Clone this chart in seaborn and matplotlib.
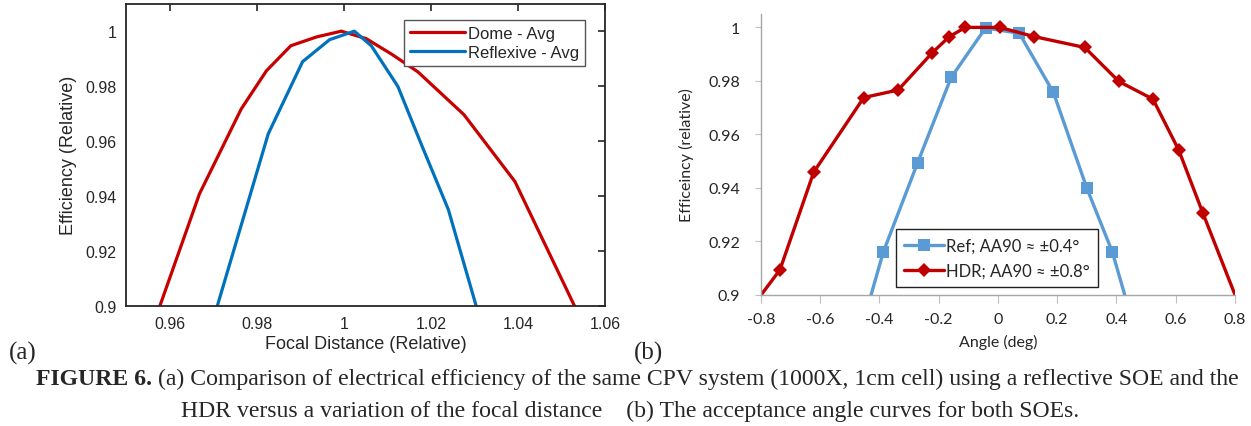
import seaborn as sns
import matplotlib.pyplot as plt

# data -- panel (a): efficiency vs focal distance
dome_x = [0.9577, 0.9668, 0.9764, 0.9822, 0.9878, 0.9937, 0.9994, 1.0051,
          1.0110, 1.0170, 1.0276, 1.0393, 1.0530]
dome_y = [0.900, 0.9408, 0.9717, 0.9856, 0.9947, 0.9979, 1.000, 0.9973,
          0.9916, 0.9852, 0.9696, 0.9453, 0.900]
refl_x = [0.9709, 0.9826, 0.9905, 0.9967, 1.0024, 1.0063, 1.0124, 1.0179,
          1.0240, 1.0304]
refl_y = [0.900, 0.9626, 0.9889, 0.9969, 1.000, 0.9947, 0.9799, 0.9584,
          0.9351, 0.900]

# data -- panel (b): acceptance angle curves
ref_angle = [-0.48, -0.387, -0.271, -0.158, -0.042, 0.072, 0.187, 0.300, 0.386, 0.48]
ref_eff = [0.880, 0.9161, 0.9495, 0.9813, 0.9998, 0.9978, 0.9757, 0.9399, 0.9161, 0.880]
hdr_angle = [-0.85, -0.736, -0.622, -0.453, -0.337, -0.223, -0.165, -0.110,
             0.006, 0.121, 0.293, 0.408, 0.523, 0.610, 0.692, 0.85]
hdr_eff = [0.8926, 0.9094, 0.9459, 0.9738, 0.9766, 0.9904, 0.9965, 1.000,
           1.000, 0.9966, 0.9925, 0.9798, 0.9732, 0.9542, 0.9305, 0.886]

sns.set_style("white")
plt.rcParams["font.family"] = ["Liberation Sans", "DejaVu Sans"]
fig = plt.figure(figsize=(12.51, 4.27), dpi=100)
grey = "#262626"

# ---- (a) ----
ax1 = fig.add_axes([0.101, 0.281, 0.3826, 0.708])
sns.lineplot(x=dome_x, y=dome_y, ax=ax1, color="#C80000", lw=2.3,
             label="Dome - Avg", sort=False)
sns.lineplot(x=refl_x, y=refl_y, ax=ax1, color="#0072BD", lw=2.3,
             label="Reflexive - Avg", sort=False)
ax1.set_xlim(0.95, 1.06)
ax1.set_ylim(0.9, 1.01)
ax1.set_xticks([0.96, 0.98, 1.0, 1.02, 1.04, 1.06])
ax1.set_xticklabels(["0.96", "0.98", "1", "1.02", "1.04", "1.06"])
ax1.set_yticks([0.9, 0.92, 0.94, 0.96, 0.98, 1.0])
ax1.set_yticklabels(["0.9", "0.92", "0.94", "0.96", "0.98", "1"])
ax1.tick_params(direction="in", top=True, right=True, length=5, width=1.2,
                labelsize=11.5, labelcolor=grey, color=grey, pad=7)
for s in ax1.spines.values():
    s.set_color(grey)
    s.set_linewidth(1.3)
ax1.set_xlabel("Focal Distance (Relative)", fontsize=13, color=grey, labelpad=3)
ax1.set_ylabel("Efficiency (Relative)", fontsize=13, color=grey, labelpad=6)
leg1 = ax1.legend(loc="upper right", bbox_to_anchor=(0.958, 0.946), borderaxespad=0,
                  fontsize=12, fancybox=False, edgecolor="#555555", framealpha=1,
                  handlelength=3.3, handletextpad=0.2, borderpad=0.35, labelspacing=0.25)
leg1.get_frame().set_linewidth(1.0)
for t in leg1.get_texts():
    t.set_color(grey)

# ---- (b) ----
ax2 = fig.add_axes([0.6083, 0.3068, 0.3789, 0.658])
sns.lineplot(x=ref_angle, y=ref_eff, ax=ax2, color="#5B9BD5", lw=2.4,
             marker="s", markersize=8, markeredgewidth=0,
             label="Ref; AA90 \u2248 \u00b10.4\u00b0", sort=False)
sns.lineplot(x=hdr_angle, y=hdr_eff, ax=ax2, color="#C00000", lw=2.4,
             marker="D", markersize=7.5, markeredgewidth=0,
             label="HDR; AA90 \u2248 \u00b10.8\u00b0", sort=False)
ax2.set_xlim(-0.8, 0.8)
ax2.set_ylim(0.9, 1.005)
ax2.set_xticks([-0.8, -0.6, -0.4, -0.2, 0, 0.2, 0.4, 0.6, 0.8])
ax2.set_xticklabels(["-0.8", "-0.6", "-0.4", "-0.2", "0", "0.2", "0.4", "0.6", "0.8"])
ax2.set_yticks([0.9, 0.92, 0.94, 0.96, 0.98, 1.0])
ax2.set_yticklabels(["0.9", "0.92", "0.94", "0.96", "0.98", "1"])
ax2.tick_params(axis="x", direction="out", length=6, color="#BFBFBF", bottom=True,
                labelsize=11.5, pad=6)
ax2.tick_params(axis="y", direction="out", length=4, color="#BFBFBF", left=True,
                labelsize=11.5, pad=11)
for lab in ax2.get_xticklabels() + ax2.get_yticklabels():
    lab.set_fontfamily("Lato")
for side in ["top", "right"]:
    ax2.spines[side].set_visible(False)
for side in ["left", "bottom"]:
    ax2.spines[side].set_color("#A6A6A6")
    ax2.spines[side].set_linewidth(1.0)
ax2.set_xlabel("Angle (deg)", fontsize=11.5, family="Lato", labelpad=6)
ax2.set_ylabel("Efficeincy (relative)", fontsize=11.5, family="Lato", labelpad=10)
leg2 = ax2.legend(loc="lower left", bbox_to_anchor=(0.285, 0.028), borderaxespad=0,
                  prop={"family": "Lato", "size": 12},
                  fancybox=False, edgecolor="#222222", framealpha=1,
                  handlelength=2.4, handletextpad=0.1, borderpad=0.5, labelspacing=0.55)
leg2.get_frame().set_linewidth(1.0)

# panel tags
fig.text(0.007, 0.157, "(a)", family="Liberation Serif", fontsize=18, va="baseline")
fig.text(0.507, 0.157, "(b)", family="Liberation Serif", fontsize=18, va="baseline")

# caption with bold lead-in
renderer = fig.canvas.get_renderer()
cap_size = 17.1
bold = fig.text(0, 0.0984, "FIGURE 6.", family="Liberation Serif", weight="bold",
                fontsize=cap_size, va="baseline")
rest = fig.text(0, 0.0984, " (a) Comparison of electrical efficiency of the same CPV system "
                "(1000X, 1cm cell) using a reflective SOE and the",
                family="Liberation Serif", fontsize=cap_size, va="baseline")
wb = bold.get_window_extent(renderer).width
wr = rest.get_window_extent(renderer).width
x0 = (1274 - wb - wr) / 2 / 1251
bold.set_x(x0)
rest.set_x(x0 + wb / 1251)
fig.text(0.504, 0.023, "HDR versus a variation of the focal distance    (b) The acceptance "
         "angle curves for both SOEs.", family="Liberation Serif", fontsize=cap_size,
         ha="center", va="baseline")

fig.savefig("out.png", dpi=100)
